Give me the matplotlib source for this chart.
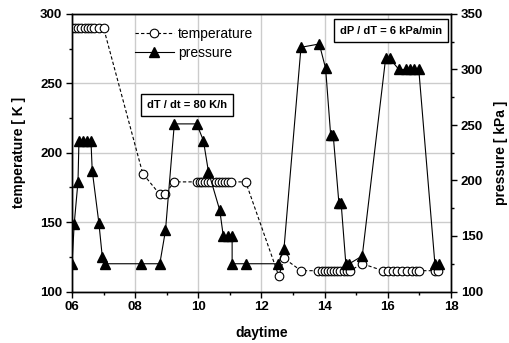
import matplotlib
matplotlib.use("Agg")
import matplotlib.pyplot as plt
from matplotlib.ticker import MultipleLocator

plt.rcParams['font.family'] = ['Liberation Sans', 'DejaVu Sans']

# temperature (K) vs daytime (h)
temp_time = [6.0, 6.1, 6.2, 6.3, 6.4, 6.5, 6.6, 6.7, 6.85, 7.0,
             8.24, 8.78, 8.95, 9.23,
             9.95, 10.05, 10.12, 10.2, 10.3, 10.4,
             10.55, 10.65, 10.75, 10.85, 10.95, 11.05, 11.5,
             12.55, 12.71, 13.25,
             13.8, 13.9, 14.0, 14.1, 14.2, 14.3, 14.4, 14.5, 14.6, 14.7, 14.8,
             15.19,
             15.85, 16.0, 16.15, 16.3, 16.45, 16.6, 16.75, 16.9, 17.0, 17.5, 17.6]
temp_vals = [290, 290, 290, 290, 290, 290, 290, 290, 290, 290,
             185, 170, 170, 179,
             179, 179, 179, 179, 179, 179,
             179, 179, 179, 179, 179, 179, 179,
             111, 124, 115,
             115, 115, 115, 115, 115, 115, 115, 115, 115, 115, 115,
             120,
             115, 115, 115, 115, 115, 115, 115, 115, 115, 115, 115]

# pressure (kPa) vs daytime (h)
pres_time = [6.0, 6.07, 6.19, 6.22, 6.35, 6.48, 6.6, 6.64, 6.85, 6.96, 7.04,
             8.2, 8.78, 8.96, 9.24, 9.95, 10.16, 10.32, 10.68,
             10.79, 10.95, 11.07, 11.07, 11.5, 12.53, 12.71,
             13.25, 13.83, 14.03, 14.19, 14.27, 14.45, 14.52, 14.67, 14.78,
             15.19, 15.93, 16.06, 16.35, 16.56, 16.7, 16.83, 16.98, 17.49, 17.61]
pres_vals = [125, 161, 199, 236, 236, 236, 236, 209, 162, 131, 125,
             125, 125, 155, 251, 251, 236, 208, 173,
             150, 150, 150, 125, 125, 125, 138,
             320, 323, 301, 241, 241, 180, 180, 125, 125,
             132, 310, 310, 300, 300, 300, 300, 300, 125, 125]

xticks = [6, 8, 10, 12, 14, 16, 18]
xticklabels = ['06', '08', '10', '12', '14', '16', '18']

fig = plt.figure(figsize=(5.10, 3.43), dpi=100)
ax = fig.add_axes([72/510, 1-291.5/343, (451-72)/510, (291.5-14)/343])
ax2 = ax.twinx()

ax.set_xlim(6, 18)
ax.set_ylim(100, 300)
ax2.set_ylim(100, 350)

ax.set_xticks(xticks)
ax.set_xticklabels(xticklabels)
ax.xaxis.set_minor_locator(MultipleLocator(1))
ax.set_yticks([100, 150, 200, 250, 300])
ax.yaxis.set_minor_locator(MultipleLocator(25))
ax2.set_yticks([100, 150, 200, 250, 300, 350])
ax2.yaxis.set_minor_locator(MultipleLocator(25))

ax.grid(True, which='major', color='#cccccc', linewidth=1.0)
ax.set_axisbelow(True)

for a in (ax, ax2):
    a.tick_params(which='major', direction='out', length=4, width=1, labelsize=9.5, pad=3)
    a.tick_params(which='minor', direction='out', length=2.5, width=1)
    for lab in a.get_xticklabels() + a.get_yticklabels():
        lab.set_fontweight('bold')
    for s in a.spines.values():
        s.set_linewidth(1.0)

lt, = ax.plot(temp_time, temp_vals, linestyle=(0, (3, 2)), color='black', linewidth=0.8,
              marker='o', markersize=6.2, markerfacecolor='white', markeredgecolor='black',
              markeredgewidth=0.8, zorder=3)
lp, = ax2.plot(pres_time, pres_vals, linestyle='-', color='black', linewidth=0.8,
               marker='^', markersize=6.5, markerfacecolor='black', markeredgecolor='black',
               zorder=4)

ax.set_xlabel('daytime', fontsize=10, fontweight='bold', labelpad=9)
ax.set_ylabel('temperature [ K ]', fontsize=10, fontweight='bold', labelpad=10)
ax2.set_ylabel('pressure [ kPa ]', fontsize=10, fontweight='bold', labelpad=8)

leg = ax2.legend([lt, lp], ['temperature', 'pressure'], loc='upper left',
                 bbox_to_anchor=(125/510, 1-17/343), bbox_transform=fig.transFigure,
                 frameon=False, fontsize=10, handlelength=2.8, handletextpad=0.3,
                 labelspacing=0.4, borderpad=0.2)

box = dict(boxstyle='square,pad=0.55', facecolor='white', edgecolor='black', linewidth=1)
fig.text(187/510, 1-105/343, 'dT / dt = 80 K/h', fontsize=8, fontweight='bold',
         ha='center', va='center', bbox=box, zorder=10)
fig.text(391/510, 1-30.5/343, 'dP / dT = 6 kPa/min', fontsize=8, fontweight='bold',
         ha='center', va='center', bbox=box, zorder=10)

fig.savefig('out.png', dpi=100)
